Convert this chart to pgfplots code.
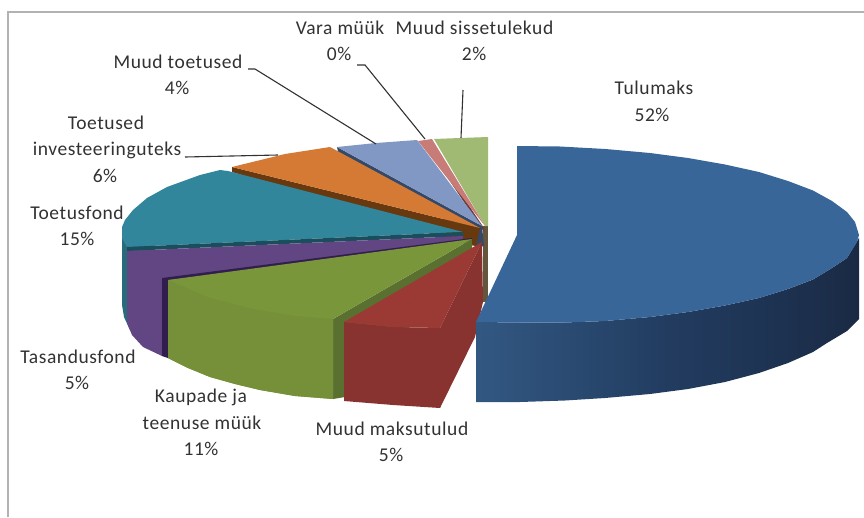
\documentclass[border=0pt]{standalone}
\usepackage{fontspec}
\setmainfont[LetterSpace=3]{Carlito}
\usepackage{pgfplots}
\pgfplotsset{compat=1.18}
\definecolor{txt}{RGB}{50,50,50}
\definecolor{frm}{RGB}{178,178,178}
\definecolor{tuluTop}{RGB}{56,102,152}
\definecolor{redTop}{RGB}{155,58,52}
\definecolor{redSide}{RGB}{136,51,47}
\definecolor{grnTop}{RGB}{122,150,58}
\definecolor{grnWall}{RGB}{90,112,48}
\definecolor{purTop}{RGB}{98,70,132}
\definecolor{purWall}{RGB}{50,30,78}
\definecolor{tealTop}{RGB}{50,134,156}
\definecolor{tealWall}{RGB}{26,78,92}
\definecolor{orgTop}{RGB}{212,122,52}
\definecolor{orgWall}{RGB}{104,56,14}
\definecolor{bluTop}{RGB}{130,152,196}
\definecolor{bluWall}{RGB}{52,72,104}
\definecolor{pnkTop}{RGB}{200,124,120}
\definecolor{pnkWall}{RGB}{110,60,58}
\definecolor{lgnTop}{RGB}{160,186,116}
\definecolor{lgnWall}{RGB}{100,86,60}
\definecolor{tuluA}{RGB}{50,88,130}
\definecolor{tuluB}{RGB}{34,60,96}
\definecolor{tuluC}{RGB}{30,52,84}
\definecolor{tuluD}{RGB}{26,42,68}
\definecolor{tuluE}{RGB}{26,44,70}
\pgfdeclarehorizontalshading{tulu}{100bp}{color(0bp)=(tuluA); color(25bp)=(tuluA); color(50bp)=(tuluB); color(62bp)=(tuluC); color(75bp)=(tuluD); color(100bp)=(tuluE)}
\tikzset{lab/.style={text=txt, font=\fontsize{19.5}{21}\selectfont, inner sep=0pt, anchor=center}}
\begin{document}
\begin{tikzpicture}
\useasboundingbox (0,0) rectangle (864pt,517pt);
\begin{axis}[hide axis, scale only axis, width=864pt, height=517pt,
  at={(0,0)}, anchor=south west,
  xmin=0, xmax=864, ymin=0, ymax=517, y dir=reverse,
  every axis plot/.append style={draw=none, no markers, line width=0pt}]
% frame
\addplot[draw=frm, line width=1.2pt, fill=none] coordinates {(8,517) (8,12) (864,12)};
% Muud sissetulekud
\addplot[fill=lgnWall] coordinates {(483,226) (488,226) (488,302) (483,302)};
\addplot[fill=lgnTop] coordinates {(434,139) (460,138) (488,137) (488,226) (485,226)};
% Vara muuk
\addplot[fill=pnkWall] coordinates {(427,143) (484,228) (484,232) (427,147)};
\addplot[fill=pnkTop] coordinates {(418,141) (432,139) (485,226)};
% Muud toetused
\addplot[fill=bluWall] coordinates {(337,147) (482,226) (484,246) (475,248) (477,240) (338,152)};
\addplot[fill=bluTop] coordinates {(337,147) (376,143) (417,140) (482,226)};
% Toetused investeeringuteks
\addplot[fill=orgWall] coordinates {(232,167) (480,228) (476,246) (463,244) (232,172)};
\addplot[fill=orgTop] coordinates {(232,167) (285,154) (330,147) (480,228)};
% Toetusfond
\addplot[fill=tealTop!80!black] coordinates {(122,227) (122,305) (124,317) (130,330) (150,345) (150,250)};
\addplot[fill=tealTop] coordinates {(463,232) (228,171) (220,170) (200,175) (167,187) (147,198) (133,210) (125,220) (122,227) (122,238) (127,247)};
\addplot[fill=tealWall] coordinates {(127,247) (463,232) (463,236) (127,251)};
% Tasandusfond
\addplot[fill=purTop] coordinates {(127,251) (463,236) (463,240) (172,280) (162,278) (162,356) (143,347) (132,335) (127,323)};
\addplot[fill=purWall] coordinates {(162,278) (472,238) (472,243) (168,280) (168,358) (162,356)};
% Kaupade ja teenuse muuk
\addplot[fill=grnWall] coordinates {(333,319) (472,239) (472,260) (345,397) (333,399)};
\addplot[fill=grnTop] coordinates {(472,239) (168,280) (168,358) (188,368) (210,377) (235,384) (260,390) (295,396) (333,399) (333,319)};
\addplot[fill=grnTop!96!black] coordinates {(168,280) (168,358) (188,368) (210,377) (235,384) (260,390) (295,396) (333,399) (333,319) (295,316) (253,309) (210,298)};
% Muud maksutulud
\addplot[fill=redSide] coordinates {(344,322) (393,327) (440,328) (440,408) (393,405) (344,401)};
\addplot[fill=redSide] coordinates {(482,242) (440,328) (440,408) (475,337) (483,302)};
\addplot[fill=redTop] coordinates {(482,242) (344,322) (393,327) (440,328)};
% Tulumaks
\addplot[shade, shading=tulu] coordinates {(476,322) (520,322.5) (565,322.5) (605,321) (650,317) (688,312) (725,305.5) (759,298) (788,289) (813,279.5) (832,268) (847,258) (859,238) (859,319) (847,331) (827,343) (813,352) (788,363) (759,373) (725,382) (688,389) (650,394) (605,398) (565,400.5) (520,402) (476,402)};
\addplot[fill=tuluTop] coordinates {(517,146) (560,146.5) (605.5,149) (650,153) (688,158) (725,164.5) (759,172) (788,181) (813,190.5) (832,201) (847,212) (855,222) (859,235) (857,242) (847,258) (832,268) (813,279.5) (788,289) (759,298) (725,305.5) (688,312) (650,317) (605,321) (565,322.5) (520,322.5) (476,322) (517,235)};
% leader lines
\addplot[draw=txt, line width=1.1pt, fill=none] coordinates {(248,69) (255,69) (376,144)};
\addplot[draw=txt, line width=1.1pt, fill=none] coordinates {(185,157) (278,155)};
\addplot[draw=txt, line width=1.1pt, fill=none] coordinates {(357,65) (365,65) (425,139)};
\addplot[draw=txt, line width=1.1pt, fill=none] coordinates {(463,90) (461,138)};
% labels
\node[lab] at (axis cs:340,28) {Vara müük};
\node[lab] at (axis cs:339,54) {0\%};
\node[lab] at (axis cs:474.5,28) {Muud sissetulekud};
\node[lab] at (axis cs:474,54) {2\%};
\node[lab] at (axis cs:654,88) {Tulumaks};
\node[lab] at (axis cs:652,115) {52\%};
\node[lab] at (axis cs:178,62) {Muud toetused};
\node[lab] at (axis cs:177,88) {4\%};
\node[lab] at (axis cs:106,123) {Toetused};
\node[lab] at (axis cs:107,150) {investeeringuteks};
\node[lab] at (axis cs:105,176) {6\%};
\node[lab] at (axis cs:77,213) {Toetusfond};
\node[lab] at (axis cs:77,239) {15\%};
\node[lab] at (axis cs:78,357) {Tasandusfond};
\node[lab] at (axis cs:77,383) {5\%};
\node[lab] at (axis cs:201,397) {Kaupade ja};
\node[lab] at (axis cs:202,423) {teenuse müük};
\node[lab] at (axis cs:201,449) {11\%};
\node[lab] at (axis cs:392,429) {Muud maksutulud};
\node[lab] at (axis cs:391,455) {5\%};
\end{axis}
\end{tikzpicture}
\end{document}
